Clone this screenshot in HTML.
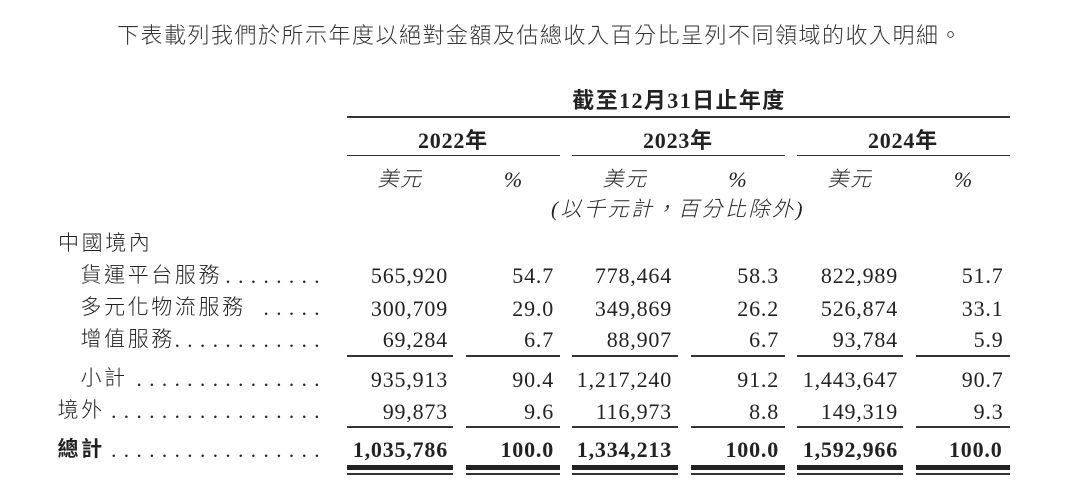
<!DOCTYPE html>
<html>
<head>
<meta charset="utf-8">
<style>
  html,body{margin:0;padding:0;background:#fff;}
  body{width:1080px;height:500px;position:relative;overflow:hidden;}
  .t{position:absolute;white-space:nowrap;color:#222;font-family:"Liberation Serif","Noto Sans CJK TC",sans-serif;}
  .title{font-size:22px;line-height:22px;letter-spacing:1.5px;color:#333;left:117px;top:25px;font-weight:300;}
  .lab{font-size:21px;line-height:21px;letter-spacing:2.6px;font-weight:300;}
  .dots{font-size:21px;line-height:21px;letter-spacing:7.45px;text-align:right;}
  .num{font-size:22px;line-height:22px;letter-spacing:0.8px;text-align:right;}
  .b{font-weight:bold;}
  .c{text-align:center;width:400px;}
  .it{font-style:italic;}
  .ln{position:absolute;background:#333;}
</style>
</head>
<body>
<div class="t title">下表載列我們於所示年度以絕對金額及估總收入百分比呈列不同領域的收入明細。</div>

<!-- header -->
<div class="t b c" style="font-size:22px;line-height:22px;letter-spacing:1.4px;left:479px;top:90px;">截至12月31日止年度</div>
<div class="ln" style="left:347px;width:663px;top:116px;height:1.5px;"></div>

<div class="t b c" style="font-size:22px;line-height:22px;letter-spacing:0.8px;left:253px;top:129.6px;">2022年</div>
<div class="t b c" style="font-size:22px;line-height:22px;letter-spacing:0.8px;left:478px;top:129.6px;">2023年</div>
<div class="t b c" style="font-size:22px;line-height:22px;letter-spacing:0.8px;left:703px;top:129.6px;">2024年</div>
<div class="ln" style="left:347px;width:213px;top:154.6px;height:1.5px;"></div>
<div class="ln" style="left:572px;width:213px;top:154.6px;height:1.5px;"></div>
<div class="ln" style="left:797px;width:213px;top:154.6px;height:1.5px;"></div>

<div class="t it c" style="font-size:21px;line-height:21px;letter-spacing:1.5px;left:200px;top:168.9px;font-weight:300;">美元</div>
<div class="t it c" style="font-size:22px;line-height:22px;left:313px;top:169px;">%</div>
<div class="t it c" style="font-size:21px;line-height:21px;letter-spacing:1.5px;left:425px;top:168.9px;font-weight:300;">美元</div>
<div class="t it c" style="font-size:22px;line-height:22px;left:537.5px;top:169px;">%</div>
<div class="t it c" style="font-size:21px;line-height:21px;letter-spacing:1.5px;left:650px;top:168.9px;font-weight:300;">美元</div>
<div class="t it c" style="font-size:22px;line-height:22px;left:763px;top:169px;">%</div>

<div class="t it c" style="font-size:21px;line-height:21px;letter-spacing:2.5px;left:478px;top:199.4px;font-weight:300;">(以千元計，百分比除外)</div>

<!-- labels -->
<div class="t lab" style="left:58px;top:232.9px;">中國境內</div>

<div class="t lab" style="left:80.5px;top:264.7px;">貨運平台服務</div>
<div class="t dots" style="right:753px;top:265.7px;">........</div>
<div class="t num" style="right:632px;top:264.9px;">565,920</div>
<div class="t num" style="right:526px;top:264.9px;">54.7</div>
<div class="t num" style="right:408px;top:264.9px;">778,464</div>
<div class="t num" style="right:301px;top:264.9px;">58.3</div>
<div class="t num" style="right:182px;top:264.9px;">822,989</div>
<div class="t num" style="right:76.5px;top:264.9px;">51.7</div>

<div class="t lab" style="left:80.5px;top:297.4px;">多元化物流服務</div>
<div class="t dots" style="right:753px;top:298.4px;">.....</div>
<div class="t num" style="right:632px;top:297.6px;">300,709</div>
<div class="t num" style="right:526px;top:297.6px;">29.0</div>
<div class="t num" style="right:408px;top:297.6px;">349,869</div>
<div class="t num" style="right:301px;top:297.6px;">26.2</div>
<div class="t num" style="right:182px;top:297.6px;">526,874</div>
<div class="t num" style="right:76.5px;top:297.6px;">33.1</div>

<div class="t lab" style="left:80.5px;top:329.1px;">增值服務</div>
<div class="t dots" style="right:753px;top:330.1px;">............</div>
<div class="t num" style="right:632px;top:329.3px;">69,284</div>
<div class="t num" style="right:526px;top:329.3px;">6.7</div>
<div class="t num" style="right:408px;top:329.3px;">88,907</div>
<div class="t num" style="right:301px;top:329.3px;">6.7</div>
<div class="t num" style="right:182px;top:329.3px;">93,784</div>
<div class="t num" style="right:76.5px;top:329.3px;">5.9</div>

<div class="ln" style="left:347px;width:106px;top:355.3px;height:1.5px;"></div>
<div class="ln" style="left:466px;width:94px;top:355.3px;height:1.5px;"></div>
<div class="ln" style="left:572px;width:106px;top:355.3px;height:1.5px;"></div>
<div class="ln" style="left:691px;width:94px;top:355.3px;height:1.5px;"></div>
<div class="ln" style="left:797px;width:106px;top:355.3px;height:1.5px;"></div>
<div class="ln" style="left:916px;width:94px;top:355.3px;height:1.5px;"></div>

<div class="t lab" style="left:80.5px;top:368.4px;">小計</div>
<div class="t dots" style="right:753px;top:369.4px;">...............</div>
<div class="t num" style="right:632px;top:368.6px;">935,913</div>
<div class="t num" style="right:526px;top:368.6px;">90.4</div>
<div class="t num" style="right:408px;top:368.6px;">1,217,240</div>
<div class="t num" style="right:301px;top:368.6px;">91.2</div>
<div class="t num" style="right:182px;top:368.6px;">1,443,647</div>
<div class="t num" style="right:76.5px;top:368.6px;">90.7</div>

<div class="t lab" style="left:57.5px;top:399.9px;">境外</div>
<div class="t dots" style="right:753px;top:400.9px;">.................</div>
<div class="t num" style="right:632px;top:400.6px;">99,873</div>
<div class="t num" style="right:526px;top:400.6px;">9.6</div>
<div class="t num" style="right:408px;top:400.6px;">116,973</div>
<div class="t num" style="right:301px;top:400.6px;">8.8</div>
<div class="t num" style="right:182px;top:400.6px;">149,319</div>
<div class="t num" style="right:76.5px;top:400.6px;">9.3</div>

<div class="ln" style="left:347px;width:106px;top:426.3px;height:1.5px;"></div>
<div class="ln" style="left:466px;width:94px;top:426.3px;height:1.5px;"></div>
<div class="ln" style="left:572px;width:106px;top:426.3px;height:1.5px;"></div>
<div class="ln" style="left:691px;width:94px;top:426.3px;height:1.5px;"></div>
<div class="ln" style="left:797px;width:106px;top:426.3px;height:1.5px;"></div>
<div class="ln" style="left:916px;width:94px;top:426.3px;height:1.5px;"></div>

<div class="t lab b" style="left:57.5px;top:439.4px;">總計</div>
<div class="t dots" style="right:753px;top:440.4px;">.................</div>
<div class="t num b" style="right:632px;top:439.1px;">1,035,786</div>
<div class="t num b" style="right:526px;top:439.1px;">100.0</div>
<div class="t num b" style="right:408px;top:439.1px;">1,334,213</div>
<div class="t num b" style="right:301px;top:439.1px;">100.0</div>
<div class="t num b" style="right:182px;top:439.1px;">1,592,966</div>
<div class="t num b" style="right:77.5px;top:439.1px;">100.0</div>

<!-- double lines -->
<div class="ln" style="left:347px;width:106px;top:464.8px;height:5px;background:#222;"></div>
<div class="ln" style="left:466px;width:94px;top:464.8px;height:5px;background:#222;"></div>
<div class="ln" style="left:572px;width:106px;top:464.8px;height:5px;background:#222;"></div>
<div class="ln" style="left:691px;width:94px;top:464.8px;height:5px;background:#222;"></div>
<div class="ln" style="left:797px;width:106px;top:464.8px;height:5px;background:#222;"></div>
<div class="ln" style="left:916px;width:94px;top:464.8px;height:5px;background:#222;"></div>

<div class="ln" style="left:347px;width:106px;top:473.3px;height:2px;"></div>
<div class="ln" style="left:466px;width:94px;top:473.3px;height:2px;"></div>
<div class="ln" style="left:572px;width:106px;top:473.3px;height:2px;"></div>
<div class="ln" style="left:691px;width:94px;top:473.3px;height:2px;"></div>
<div class="ln" style="left:797px;width:106px;top:473.3px;height:2px;"></div>
<div class="ln" style="left:916px;width:94px;top:473.3px;height:2px;"></div>
</body>
</html>
